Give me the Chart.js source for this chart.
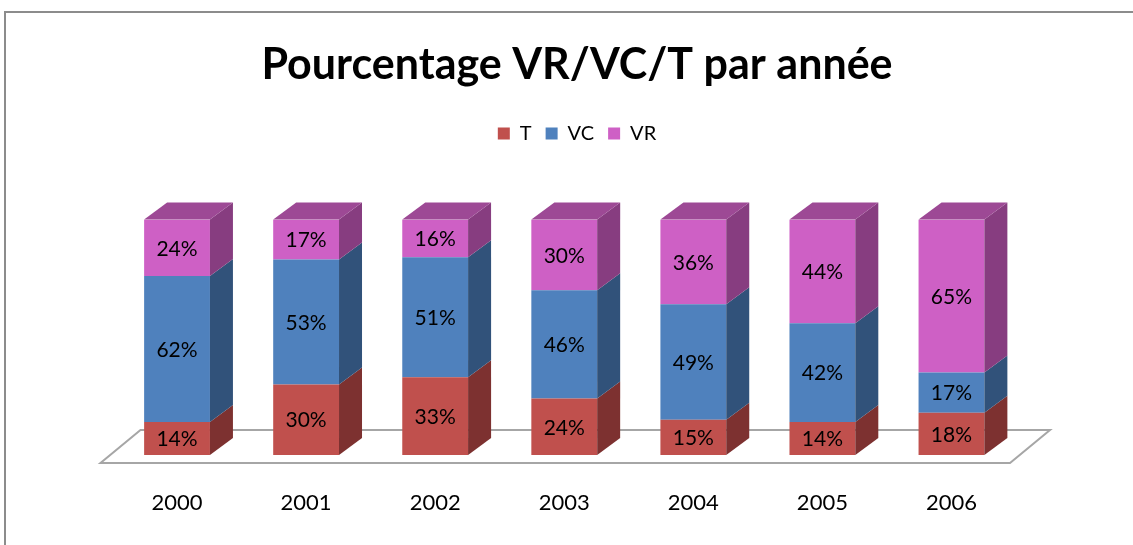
<!DOCTYPE html>
<html lang="fr">
<head>
    <meta charset="UTF-8">
    <title>Pourcentage VR/VC/T par année</title>
    <script src="https://cdn.jsdelivr.net/npm/chart.js"></script>
    <style>
        html, body {
            margin: 0;
            padding: 0;
            background: #ffffff;
            overflow: hidden;
        }

        /* grey frame of the chart, runs off the right and bottom edges */
        .frame {
            position: absolute;
            left: 4px;
            top: 11px;
            width: 1200px;
            height: 700px;
            border: 2px solid #8c8c8c;
        }

        .chart-box {
            position: absolute;
            left: 0;
            top: 0;
            width: 1133px;
            height: 545px;
        }
    </style>
</head>
<body>
    <div class="frame"></div>
    <div class="chart-box">
        <canvas id="stackChart"></canvas>
    </div>

    <script>
        const years = ['2000', '2001', '2002', '2003', '2004', '2005', '2006'];
        const tValues = [14, 30, 33, 24, 15, 14, 18];
        const vcValues = [62, 53, 51, 46, 49, 42, 17];
        const vrValues = [24, 17, 16, 30, 36, 44, 65];

        // colours: front face, right side, top face
        const faces = [
            { front: '#C0504D', side: '#7D3130', top: '#9A3E3B' },
            { front: '#4F81BD', side: '#31527A', top: '#3D6695' },
            { front: '#CE60C5', side: '#873D80', top: '#9D4995' }
        ];

        const depthX = 23;
        const depthY = -17;

        // floor drawn behind the columns
        const floorPlugin = {
            id: 'floor',
            beforeDatasetsDraw(chart) {
                const { ctx, chartArea } = chart;
                const l = chartArea.left, r = chartArea.right, b = chartArea.bottom;
                ctx.save();
                ctx.beginPath();
                ctx.moveTo(l - 12, b + 8);
                ctx.lineTo(r - 6, b + 8);
                ctx.lineTo(r + 34, b - 25);
                ctx.lineTo(l + 28, b - 25);
                ctx.closePath();
                ctx.fillStyle = '#ffffff';
                ctx.fill();
                ctx.lineWidth = 2;
                ctx.strokeStyle = '#a6a6a6';
                ctx.stroke();
                ctx.restore();
            }
        };

        // side and top faces + value labels
        const depthPlugin = {
            id: 'depth',
            afterDatasetsDraw(chart) {
                const ctx = chart.ctx;
                const last = chart.data.datasets.length - 1;
                ctx.save();
                chart.data.datasets.forEach((ds, i) => {
                    const meta = chart.getDatasetMeta(i);
                    meta.data.forEach((bar) => {
                        const { x, y, base, width } = bar.getProps(['x', 'y', 'base', 'width'], true);
                        const L = x - width / 2, R = x + width / 2;
                        ctx.beginPath();
                        ctx.moveTo(R, base);
                        ctx.lineTo(R + depthX, base + depthY);
                        ctx.lineTo(R + depthX, y + depthY);
                        ctx.lineTo(R, y);
                        ctx.closePath();
                        ctx.fillStyle = faces[i].side;
                        ctx.fill();
                        if (i === last) {
                            ctx.beginPath();
                            ctx.moveTo(L, y);
                            ctx.lineTo(L + depthX, y + depthY);
                            ctx.lineTo(R + depthX, y + depthY);
                            ctx.lineTo(R, y);
                            ctx.closePath();
                            ctx.fillStyle = faces[i].top;
                            ctx.fill();
                        }
                    });
                });
                ctx.fillStyle = '#000000';
                ctx.font = '21px Lato';
                ctx.textAlign = 'center';
                ctx.textBaseline = 'middle';
                chart.data.datasets.forEach((ds, i) => {
                    const meta = chart.getDatasetMeta(i);
                    meta.data.forEach((bar, j) => {
                        const { x, y, base } = bar.getProps(['x', 'y', 'base'], true);
                        ctx.fillText(ds.data[j] + '%', x, (y + base) / 2 + 1);
                    });
                });
                ctx.restore();
            }
        };

        const ctx = document.getElementById('stackChart').getContext('2d');
        const stackChart = new Chart(ctx, {
            type: 'bar',
            data: {
                labels: years,
                datasets: [
                    { label: 'T', data: tValues, backgroundColor: faces[0].front },
                    { label: 'VC', data: vcValues, backgroundColor: faces[1].front },
                    { label: 'VR', data: vrValues, backgroundColor: faces[2].front }
                ]
            },
            options: {
                responsive: true,
                maintainAspectRatio: false,
                animation: false,
                datasets: {
                    bar: {
                        categoryPercentage: 1,
                        barPercentage: 0.51,
                        borderWidth: 0
                    }
                },
                layout: {
                    padding: { left: 40, right: 19, top: 0, bottom: 0 }
                },
                plugins: {
                    title: {
                        display: true,
                        text: 'Pourcentage VR/VC/T par année',
                        color: '#000000',
                        font: { family: 'Lato', size: 43, weight: 'bold' },
                        padding: { top: 39, bottom: 19 }
                    },
                    legend: {
                        labels: {
                            boxWidth: 12,
                            boxHeight: 12,
                            padding: 14,
                            color: '#000000',
                            font: { family: 'Lato', size: 20 }
                        }
                    },
                    tooltip: { enabled: false }
                },
                scales: {
                    x: {
                        stacked: true,
                        grid: { display: false },
                        border: { display: false },
                        ticks: {
                            color: '#000000',
                            padding: 27,
                            font: { family: 'Lato', size: 22 }
                        },
                        afterFit: (scale) => { scale.height = 90; }
                    },
                    y: {
                        stacked: true,
                        min: 0,
                        max: 100,
                        grid: { display: false },
                        border: { display: false },
                        ticks: { display: false },
                        afterFit: (scale) => { scale.width = 72.5; }
                    },
                    // empty axes that only keep room round the columns
                    gap: {
                        type: 'category',
                        position: 'top',
                        labels: [''],
                        grid: { display: false },
                        border: { display: false },
                        ticks: { display: false },
                        afterFit: (scale) => { scale.height = 66; }
                    },
                    side: {
                        type: 'linear',
                        position: 'right',
                        grid: { display: false },
                        border: { display: false },
                        ticks: { display: false },
                        afterFit: (scale) => { scale.width = 98; }
                    }
                }
            },
            plugins: [floorPlugin, depthPlugin]
        });
    </script>
</body>
</html>
